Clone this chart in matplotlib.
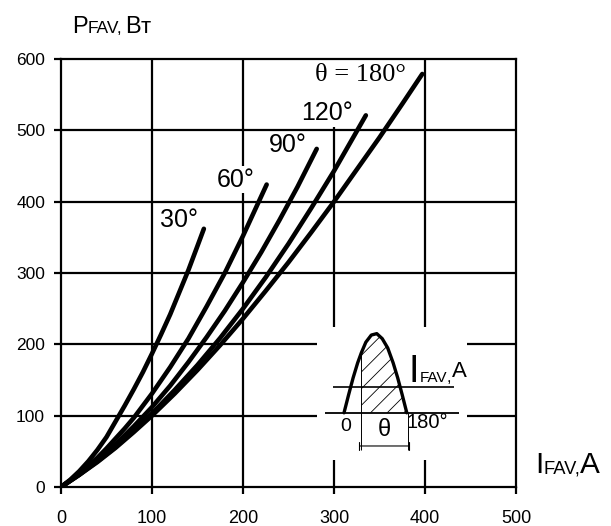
import matplotlib
matplotlib.use('Agg')
import matplotlib.pyplot as plt

# curves P_FAV(I_FAV) for different conduction angles
i_30 = [0, 10, 20, 30, 40, 50, 60, 70, 80, 90, 100, 110, 120, 130, 140, 150, 157]
p_30 = [0, 10, 22, 36, 52, 70, 92, 114, 137, 161, 187, 214, 242, 273, 304, 338, 362]

i_60 = [0, 10, 20, 30, 40, 50, 60, 70, 80, 90, 100, 120, 140, 160, 180, 200, 226]
p_60 = [0, 9, 19, 30, 41, 54, 68, 82, 97, 114, 131, 168, 208, 253, 300, 352, 424]

i_90 = [0, 20, 40, 60, 80, 100, 120, 140, 160, 180, 200, 220, 240, 260, 281]
p_90 = [0, 17.5, 38, 60, 85, 112, 142, 175, 210, 247, 287, 329, 374, 421, 474]

i_120 = [0, 20, 40, 60, 80, 100, 125, 150, 175, 200, 225, 250, 275, 300, 335]
p_120 = [0, 17, 36, 56, 79, 103, 136, 171, 209, 250, 294, 341, 391, 443, 521]

i_180 = [0, 20, 40, 60, 80, 100, 125, 150, 175, 200, 225, 250, 275, 300, 325, 350, 375, 397]
p_180 = [0, 17, 35, 55, 77, 100, 131, 164, 199, 236, 275, 315, 357, 400, 445, 490, 537, 579]

curve_labels = ['30°', '60°', '90°', '120°']
label_x = [129.6, 192, 248.7, 291.8]
label_y = [374.5, 430.6, 479.7, 524.5]

xticks = [0, 100, 200, 300, 400, 500]
yticks = [0, 100, 200, 300, 400, 500, 600]

# inset: half-wave pulse (schematic)
pulse_x = [311, 316, 321, 326, 330, 335, 341, 347, 353, 359, 365, 370, 375, 380]
pulse_h = [0, 25, 49, 70, 84, 99, 109, 111, 104, 91, 70, 49, 25, 0]

W, H = 611, 526
LW = 1.6
SANS = 'Liberation Sans'

fig = plt.figure(figsize=(W / 100, H / 100), dpi=100)
ax = fig.add_axes([61 / W, 39 / H, 455 / W, 428 / H])
ax.set_xlim(0, 500)
ax.set_ylim(0, 600)

for s in ax.spines.values():
    s.set_linewidth(LW)
ax.set_xticks(xticks)
ax.set_yticks(yticks)
ax.tick_params(direction='out', length=5, width=LW)
ax.tick_params(axis='x', pad=11.5, labelsize=13)
ax.tick_params(axis='y', pad=6.5, labelsize=12.5)
for t in ax.get_xticklabels() + ax.get_yticklabels():
    t.set_fontfamily(SANS)

# grid, broken where the inset sits
gkw = dict(color='black', lw=LW, zorder=1)
ax.vlines([100, 200], 0, 600, **gkw)
ax.vlines([300, 400], 0, 38, **gkw)
ax.vlines(300, 224, 505, **gkw)
ax.vlines(400, 224, 600, **gkw)
ax.hlines([300, 400, 500], 0, 500, **gkw)
ax.hlines([100, 200], 0, 281, **gkw)
ax.hlines([100, 200], 446, 500, **gkw)

for xs, ys in [(i_30, p_30), (i_60, p_60), (i_90, p_90), (i_120, p_120), (i_180, p_180)]:
    ax.plot(xs, ys, color='black', lw=3.3, solid_capstyle='round',
            solid_joinstyle='round', zorder=2)

for lab, lx, ly in zip(curve_labels, label_x, label_y):
    bb = dict(fc='white', ec='none', pad=1) if lab == '60°' else None
    ax.text(lx, ly, lab, fontsize=18, family=SANS, ha='center', va='center',
            bbox=bb, zorder=3)
ax.text(329.5, 577.8, 'θ = 180°', fontsize=19, family='Liberation Serif',
        ha='center', va='center', zorder=3)

# inset drawing
base = 104
ax.hlines(base, 290, 437, color='black', lw=1.3)
ax.hlines(140.7, 299, 432, color='black', lw=1.2)
pulse_y = [base + h for h in pulse_h]
ax.plot(pulse_x, pulse_y, color='black', lw=2.4, solid_capstyle='round')
plt.rcParams['hatch.linewidth'] = 0.6
hx = [x for x in pulse_x if x >= 330]
hy = [y for x, y in zip(pulse_x, pulse_y) if x >= 330]
ax.fill_between(hx, base, hy, facecolor='none', edgecolor='black', hatch='//', lw=0)
ax.vlines(330, 52, 188, color='black', lw=0.7)
ax.vlines(381, 52, base, color='black', lw=0.7)
ax.annotate('', xy=(328, 57.5), xytext=(382, 57.5),
            arrowprops=dict(arrowstyle='|-|', lw=0.8, mutation_scale=3, shrinkA=0, shrinkB=0))
ax.text(312.8, 84.6, '0', fontsize=14, family=SANS, ha='center', va='center')
ax.text(355.8, 80, 'θ', fontsize=17, family=SANS, ha='center', va='center')
ax.text(402, 89.8, '180°', fontsize=14.5, family=SANS, ha='center', va='center')


def pieces(x_px, base_px, parts, family):
    # draw text pieces one after another, pixel coords from the top-left corner
    r = fig.canvas.get_renderer()
    x = x_px
    for s, size, gap, dy in parts:
        t = fig.text(x / W, 1 - (base_px - dy) / H, s, fontsize=size, family=family,
                     ha='left', va='baseline')
        x += t.get_window_extent(r).width + gap


pieces(72, 33, [('P', 17, 0, 0), ('FAV,', 12.5, 3, 0), ('В', 17, 0, 0), ('т', 16, 0, 0)], SANS)
pieces(535, 473, [('I', 21.4, 0, 0), ('FAV,', 13.2, 0, 0), ('A', 21.4, 0, 0)], SANS)
pieces(409, 382, [('I', 27, 0, 0), ('FAV', 11, 0, 0), (',', 12, 1, 0), ('A', 16, 0, 5)], SANS)

fig.savefig('out.png', dpi=100)
